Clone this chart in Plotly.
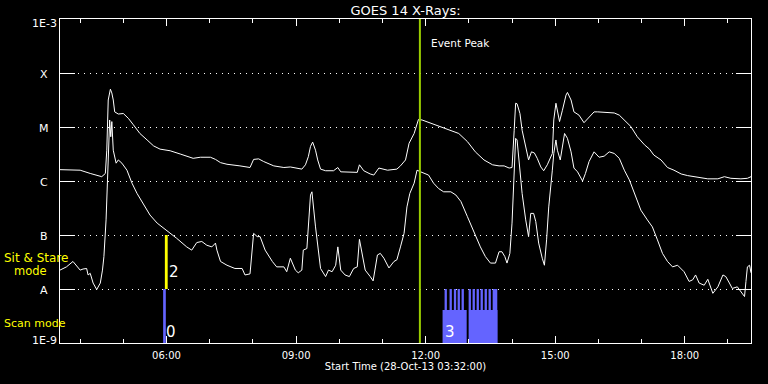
import numpy as np
import pandas as pd
import plotly.graph_objects as go

# ---------------- data ----------------
start_time = pd.Timestamp("2013-10-28 03:32:00")
end_time = pd.Timestamp("2013-10-28 19:32:00")
event_peak = pd.Timestamp("2013-10-28 11:52:00")

# GOES long channel (1-8 A): minutes after start, log10 flux (W/m^2)
long_t = [0, 18, 28, 42, 51, 58, 63, 65, 67, 70, 72, 74, 76, 81, 88, 95, 102, 111, 121, 130,
          139, 153, 167, 181, 185, 195, 209, 216, 223, 232, 243, 250, 264, 269, 276, 283, 297,
          311, 320, 336, 341, 345, 348, 351, 355, 358, 362, 369, 380, 386, 390, 403, 413, 416,
          422, 431, 436, 443, 455, 468, 473, 480, 485, 492, 498, 503, 515, 529, 543, 554, 566,
          577, 589, 601, 610, 617, 624, 628, 631, 633, 635, 639, 642, 647, 651, 655, 659, 663,
          668, 672, 677, 684, 686, 689, 691, 694, 698, 703, 705, 710, 714, 721, 728, 735, 742,
          747, 770, 777, 784, 793, 802, 812, 819, 825, 835, 844, 853, 863, 872, 886, 900, 914,
          923, 932, 946, 955, 960]
long_log = [-5.79, -5.79, -5.80, -5.86, -5.90, -5.92, -5.86, -5.43, -4.50, -4.30, -4.37, -4.50,
            -4.72, -4.76, -4.75, -4.84, -4.96, -5.12, -5.24, -5.35, -5.41, -5.44, -5.50, -5.56,
            -5.58, -5.56, -5.56, -5.60, -5.66, -5.69, -5.70, -5.72, -5.75, -5.60, -5.59, -5.64,
            -5.72, -5.75, -5.74, -5.78, -5.70, -5.55, -5.36, -5.28, -5.43, -5.61, -5.78, -5.81,
            -5.81, -5.75, -5.83, -5.84, -5.84, -5.70, -5.81, -5.87, -5.89, -5.76, -5.80, -5.78,
            -5.72, -5.61, -5.30, -5.12, -4.86, -4.87, -4.93, -4.99, -5.06, -5.12, -5.27, -5.46,
            -5.61, -5.70, -5.72, -5.72, -5.76, -5.75, -5.06, -4.56, -4.57, -4.75, -5.06, -5.39,
            -5.61, -5.46, -5.48, -5.58, -5.74, -5.81, -5.70, -5.49, -4.87, -4.56, -4.69, -4.90,
            -4.69, -4.41, -4.36, -4.50, -4.72, -4.78, -4.92, -4.81, -4.72, -4.72, -4.74, -4.78,
            -4.87, -4.99, -5.18, -5.33, -5.41, -5.52, -5.61, -5.75, -5.80, -5.87, -5.90, -5.93,
            -5.96, -5.96, -5.92, -5.95, -5.96, -5.95, -5.92]

# GOES short channel (0.5-4 A): minutes after start, log10 flux (W/m^2)
short_t = [0, 9, 18, 25, 28, 32, 37, 39, 42, 46, 51, 56, 59, 61, 64, 66, 68, 69, 70.5, 72, 74,
           78, 81, 86, 93, 100, 107, 116, 125, 135, 148, 162, 176, 183, 190, 197, 204, 211, 216,
           218, 223, 232, 243, 253, 257, 264, 269, 274, 278, 285, 295, 301, 311, 315, 320, 327,
           331, 336, 338, 343, 348, 350, 355, 358, 362, 369, 373, 378, 383, 386, 390, 396, 402,
           408, 413, 416, 420, 424, 431, 435, 441, 445, 450, 457, 464, 468, 473, 478, 482, 486,
           492, 496, 501, 508, 512, 519, 526, 533, 543, 550, 557, 566, 575, 584, 591, 598, 605,
           610, 614, 618, 621, 625, 628, 631, 633, 635, 638, 642, 647, 651, 654, 658, 661, 665,
           670, 673, 676, 679, 684, 686, 689, 691, 695, 698, 701, 705, 710, 714, 719, 726, 730,
           735, 742, 749, 756, 763, 770, 777, 784, 791, 798, 807, 816, 823, 830, 837, 844, 851,
           858, 867, 874, 879, 883, 888, 895, 900, 907, 914, 921, 925, 930, 934, 941, 948, 951,
           953, 955, 958, 960]
short_log = [-7.65, -7.59, -7.49, -7.59, -7.65, -7.63, -7.62, -7.74, -7.71, -7.89, -8.01, -7.89,
             -7.65, -7.40, -6.72, -5.98, -5.12, -4.87, -5.18, -4.90, -5.43, -5.67, -5.61, -5.67,
             -5.80, -6.04, -6.23, -6.44, -6.63, -6.78, -6.91, -7.06, -7.22, -7.28, -7.14, -7.12,
             -7.19, -7.22, -7.15, -7.28, -7.49, -7.56, -7.62, -7.62, -7.74, -7.72, -6.97, -7.03,
             -7.03, -7.28, -7.49, -7.59, -7.59, -7.68, -7.43, -7.65, -7.70, -7.65, -7.28, -7.25,
             -6.26, -6.20, -6.85, -7.22, -7.62, -7.77, -7.65, -7.68, -7.56, -7.22, -7.65, -7.74,
             -7.77, -7.62, -7.59, -7.08, -7.40, -7.65, -7.77, -7.85, -7.37, -7.34, -7.43, -7.61,
             -7.49, -7.46, -7.22, -6.97, -6.48, -6.23, -6.04, -5.80, -5.83, -5.86, -5.89, -6.04,
             -6.14, -6.20, -6.20, -6.26, -6.38, -6.66, -6.94, -7.22, -7.40, -7.52, -7.52, -7.31,
             -7.31, -7.40, -7.52, -7.34, -6.78, -5.74, -5.21, -5.24, -5.67, -6.23, -6.72, -7.03,
             -6.60, -6.60, -6.75, -7.15, -7.43, -7.56, -7.09, -6.48, -5.80, -5.49, -5.24, -5.43,
             -5.61, -5.36, -5.12, -5.21, -5.46, -5.76, -5.83, -6.00, -5.86, -5.64, -5.46, -5.56,
             -5.54, -5.46, -5.49, -5.58, -5.80, -5.98, -6.23, -6.54, -6.72, -6.85, -7.09, -7.34,
             -7.49, -7.59, -7.56, -7.68, -7.86, -7.83, -7.74, -7.89, -7.93, -7.82, -8.08, -7.96,
             -7.74, -7.77, -7.89, -7.99, -7.96, -8.08, -8.14, -7.86, -7.59, -7.56, -7.70]

# y axis decades and labels
ytick_vals = [1e-9, 1e-8, 1e-7, 1e-6, 1e-5, 1e-4, 1e-3]
ytick_text = ["1E-9", "A", "B", "C", "M", "X", "1E-3"]

# observation modes (minutes after start)
scan_start = [143.3, 531.5, 567.7]
scan_end = [147.0, 565.0, 608.0]
scan_top = [1e-8, 4.08e-9, 4.08e-9]
scan_tine_start = [534.3, 541.2, 547.2, 552.4, 557.9, 567.7, 573.2, 578.8, 584.3, 589.9, 595.4, 601.1]
scan_tine_end = [537.5, 544.4, 550.4, 555.6, 561.1, 570.9, 576.4, 582.0, 587.5, 593.1, 598.6, 607.5]
sit_start = [145.7]
sit_end = [149.6]
obs_label_text = ["0", "2", "3"]
obs_label_t = [144.7, 149.3, 532.4]
obs_label_level = [10**-8.8, 10**-7.69, 10**-8.8]

SCAN_COLOR = "#6464ff"
SIT_COLOR = "#ffff00"
PEAK_COLOR = "#99cc00"
FONT = "DejaVu Sans"


def tm(minutes):
    return [start_time + pd.Timedelta(minutes=float(m)) for m in minutes]


def rect_path(starts, ends, lows, highs):
    xs, ys = [], []
    for s, e, lo, hi in zip(starts, ends, lows, highs):
        ts, te = tm([s, e])
        xs += [ts, te, te, ts, ts, None]
        ys += [lo, lo, hi, hi, lo, None]
    return xs, ys


fig = go.Figure()

fig.add_trace(go.Scatter(x=tm(long_t), y=10 ** np.array(long_log), mode="lines",
                         line=dict(color="white", width=1), hoverinfo="skip", showlegend=False))
fig.add_trace(go.Scatter(x=tm(short_t), y=10 ** np.array(short_log), mode="lines",
                         line=dict(color="white", width=1), hoverinfo="skip", showlegend=False))

# scan mode blocks
xs, ys = rect_path(scan_start, scan_end, [1e-9] * len(scan_start), scan_top)
fig.add_trace(go.Scatter(x=xs, y=ys, mode="lines", fill="toself", fillcolor=SCAN_COLOR,
                         line=dict(width=0, color=SCAN_COLOR), hoverinfo="skip", showlegend=False))
xs, ys = rect_path(scan_tine_start, scan_tine_end, [4.08e-9] * len(scan_tine_start),
                   [1e-8] * len(scan_tine_start))
fig.add_trace(go.Scatter(x=xs, y=ys, mode="lines", fill="toself", fillcolor=SCAN_COLOR,
                         line=dict(width=0, color=SCAN_COLOR), hoverinfo="skip", showlegend=False))
# sit & stare
xs, ys = rect_path(sit_start, sit_end, [1e-8], [1e-7])
fig.add_trace(go.Scatter(x=xs, y=ys, mode="lines", fill="toself", fillcolor=SIT_COLOR,
                         line=dict(width=0, color=SIT_COLOR), hoverinfo="skip", showlegend=False))

# event peak line
fig.add_shape(type="line", xref="x", yref="paper", x0=event_peak, x1=event_peak, y0=0, y1=1,
              line=dict(color=PEAK_COLOR, width=2), layer="above")

annotations = []
annotations.append(dict(text="Event Peak", x=event_peak, xref="x", y=0.926, yref="paper",
                        xanchor="left", yanchor="middle", xshift=9, showarrow=False,
                        font=dict(family=FONT, size=10.5, color="white")))

# y tick labels (centred, like the original)
yshifts = [3, -1, -1, -1, -1, -1, -4]
for v, t, ysh in zip(ytick_vals, ytick_text, yshifts):
    annotations.append(dict(text=t, x=0, xref="paper", y=np.log10(v), yref="y",
                            xanchor="center", yanchor="middle", xshift=-16, yshift=ysh,
                            showarrow=False, font=dict(family=FONT, size=11, color="white")))

# mode labels
annotations.append(dict(text="Sit & Stare", x=-0.0839, xref="paper", y=0.262, yref="paper",
                        xanchor="left", yanchor="middle", showarrow=False,
                        font=dict(family=FONT, size=12, color=SIT_COLOR)))
annotations.append(dict(text="mode", x=-0.07, xref="paper", y=0.222, yref="paper",
                        xanchor="left", yanchor="middle", showarrow=False,
                        font=dict(family=FONT, size=11.5, color=SIT_COLOR)))
annotations.append(dict(text="Scan mode", x=-0.0839, xref="paper", y=0.060, yref="paper",
                        xanchor="left", yanchor="middle", showarrow=False,
                        font=dict(family=FONT, size=11, color=SIT_COLOR)))

for txt, t, lv in zip(obs_label_text, obs_label_t, obs_label_level):
    annotations.append(dict(text=txt, x=tm([t])[0], xref="x", y=np.log10(lv), yref="y",
                            xanchor="left", yanchor="middle", showarrow=False,
                            font=dict(family=FONT, size=15, color="white")))

fig.update_layout(
    width=768, height=384,
    margin=dict(l=60, r=17, t=19, b=41, pad=0),
    paper_bgcolor="black", plot_bgcolor="black",
    showlegend=False,
    title=dict(text="GOES 14 X-Rays:", x=0.5, xref="paper", xanchor="center",
               y=1 - 10 / 384, yref="container", yanchor="middle",
               font=dict(family=FONT, size=13, color="white")),
    annotations=annotations,
    xaxis=dict(
        type="date", range=[start_time, end_time],
        tick0="2013-10-28 00:00:00", dtick=3 * 3600000, tickformat="%H:%M",
        ticks="inside", ticklen=7, tickwidth=1, tickcolor="white",
        showline=True, linecolor="white", linewidth=1, mirror="ticks",
        showgrid=False, zeroline=False, ticklabelstandoff=3,
        tickfont=dict(family=FONT, size=10, color="white"),
        minor=dict(dtick=3600000, tick0="2013-10-28 00:00:00", ticks="inside",
                   ticklen=4, tickcolor="white", showgrid=False),
        title=dict(text="Start Time (28-Oct-13 03:32:00)", standoff=1,
                   font=dict(family=FONT, size=10, color="white")),
    ),
    yaxis=dict(
        type="log", range=[-9, -3],
        tickvals=ytick_vals, showticklabels=False,
        ticks="inside", ticklen=15, tickwidth=1, tickcolor="white",
        showline=True, linecolor="white", linewidth=1, mirror="ticks",
        showgrid=True, gridcolor="white", gridwidth=1, griddash="1px,5px",
        zeroline=False,
    ),
)

fig.write_html(
    "out.html",
    config={"displayModeBar": False},
    post_script="document.body.style.margin='0';document.body.style.background='black';",
)
